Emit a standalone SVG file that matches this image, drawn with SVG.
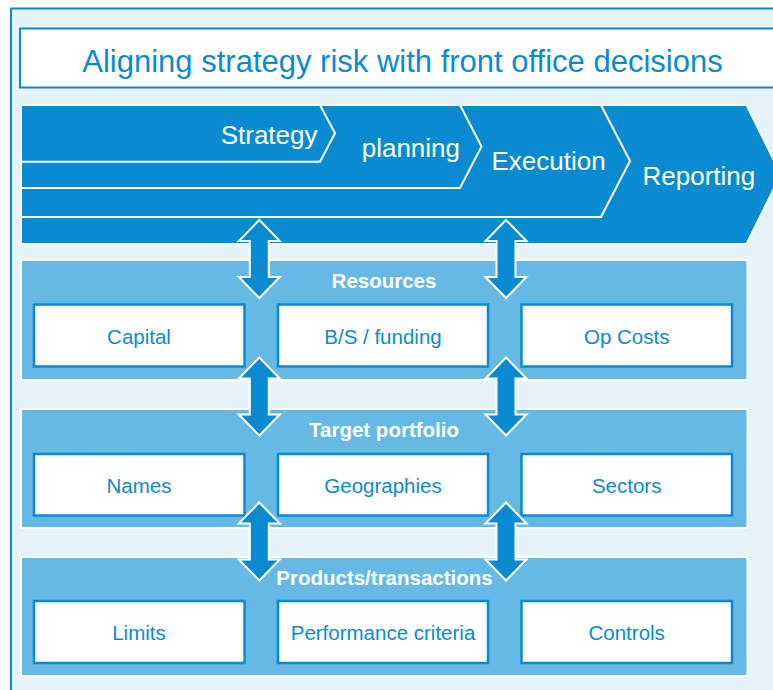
<svg xmlns="http://www.w3.org/2000/svg" width="773" height="690" viewBox="0 0 773 690">
  <defs>
    <style>
      .frame { fill: #E5F3FB; stroke: #0A8BD1; stroke-width: 2; }
      .title-box { fill: #FFFFFF; stroke: #0A8BD1; stroke-width: 2; }
      .title { font-family: "Liberation Sans", Arial, sans-serif; font-size: 31px; fill: #0A8BD1; text-anchor: middle; }
      .chev { fill: #0A8BD1; stroke: #FFFFFF; stroke-width: 2; stroke-linejoin: miter; }
      .stage { font-family: "Liberation Sans", Arial, sans-serif; font-size: 26px; fill: #FFFFFF; }
      .panel { fill: #66B9E4; stroke: #FFFFFF; stroke-width: 2; }
      .head { font-family: "Liberation Sans", Arial, sans-serif; font-size: 20.5px; font-weight: bold; fill: #FFFFFF; text-anchor: middle; }
      .box { fill: #FFFFFF; stroke: #0A8BD1; stroke-width: 2.5; }
      .label { font-family: "Liberation Sans", Arial, sans-serif; font-size: 20.5px; fill: #0A8BD1; text-anchor: middle; }
      .arrow { fill: #0A8BD1; stroke: #FFFFFF; stroke-width: 2; stroke-linejoin: miter; }
    </style>
    <!-- double-headed vertical arrow, tip at origin, length 78 -->
    <path id="dbl-arrow" d="M0,0 l20.5,21 h-11 v36 h11 l-20.5,21 l-20.5,-21 h11 v-36 h-11 z"/>
  </defs>

  <!-- outer frame -->
  <rect class="frame" x="11" y="8.5" width="780" height="700"/>

  <!-- title -->
  <g id="title">
    <rect class="title-box" x="20" y="28.5" width="770" height="59"/>
    <text class="title" x="402.5" y="71.5">Aligning strategy risk with front office decisions</text>
  </g>

  <!-- process band: stacked chevrons -->
  <g id="stage-reporting">
    <polygon class="chev" points="21,105 746.5,105 781,174.5 746.5,244 21,244"/>
    <text class="stage" x="642.5" y="184.5">Reporting</text>
  </g>
  <g id="stage-execution">
    <polygon class="chev" points="21,105 601,105 630,161 601,217 21,217"/>
    <text class="stage" x="491.5" y="170">Execution</text>
  </g>
  <g id="stage-planning">
    <polygon class="chev" points="21,105 460,105 481.5,146.5 460,188 21,188"/>
    <text class="stage" x="460" y="157" text-anchor="end">planning</text>
  </g>
  <g id="stage-strategy">
    <polygon class="chev" points="21,105 320,105 335,133.3 320,161.7 21,161.7"/>
    <text class="stage" x="317.5" y="143.5" text-anchor="end">Strategy</text>
  </g>

  <!-- Resources -->
  <g id="resources">
    <rect class="panel" x="21" y="260" width="726.5" height="120"/>
    <text class="head" x="384" y="287.7">Resources</text>
  </g>
  <g id="capital">
    <rect class="box" x="34" y="304.5" width="210.5" height="62"/>
    <text class="label" x="139" y="343.5">Capital</text>
  </g>
  <g id="bs-funding">
    <rect class="box" x="278" y="304.5" width="210" height="62"/>
    <text class="label" x="383" y="343.5">B/S / funding</text>
  </g>
  <g id="op-costs">
    <rect class="box" x="521.5" y="304.5" width="210.5" height="62"/>
    <text class="label" x="626.7" y="343.5">Op Costs</text>
  </g>

  <!-- Target portfolio -->
  <g id="target-portfolio">
    <rect class="panel" x="21" y="409" width="726.5" height="119"/>
    <text class="head" x="384" y="436.7">Target portfolio</text>
  </g>
  <g id="names">
    <rect class="box" x="34" y="454" width="210.5" height="61.5"/>
    <text class="label" x="139" y="492.7">Names</text>
  </g>
  <g id="geographies">
    <rect class="box" x="278" y="454" width="210" height="61.5"/>
    <text class="label" x="383" y="492.7">Geographies</text>
  </g>
  <g id="sectors">
    <rect class="box" x="521.5" y="454" width="210.5" height="61.5"/>
    <text class="label" x="626.7" y="492.7">Sectors</text>
  </g>

  <!-- Products/transactions -->
  <g id="products-transactions">
    <rect class="panel" x="21" y="557" width="726.5" height="119"/>
    <text class="head" x="384.5" y="585">Products/transactions</text>
  </g>
  <g id="limits">
    <rect class="box" x="34" y="601" width="210.5" height="62"/>
    <text class="label" x="139" y="639.5">Limits</text>
  </g>
  <g id="performance-criteria">
    <rect class="box" x="278" y="601" width="210" height="62"/>
    <text class="label" x="383" y="639.5">Performance criteria</text>
  </g>
  <g id="controls">
    <rect class="box" x="521.5" y="601" width="210.5" height="62"/>
    <text class="label" x="626.7" y="639.5">Controls</text>
  </g>

  <!-- connectors: two-way links between layers -->
  <g id="connectors">
    <use href="#dbl-arrow" class="arrow" x="259.3" y="220"/>
    <use href="#dbl-arrow" class="arrow" x="506" y="220"/>
    <use href="#dbl-arrow" class="arrow" x="259.3" y="357.5"/>
    <use href="#dbl-arrow" class="arrow" x="506" y="357.5"/>
    <use href="#dbl-arrow" class="arrow" x="259.3" y="502.5"/>
    <use href="#dbl-arrow" class="arrow" x="506" y="502.5"/>
  </g>
</svg>
